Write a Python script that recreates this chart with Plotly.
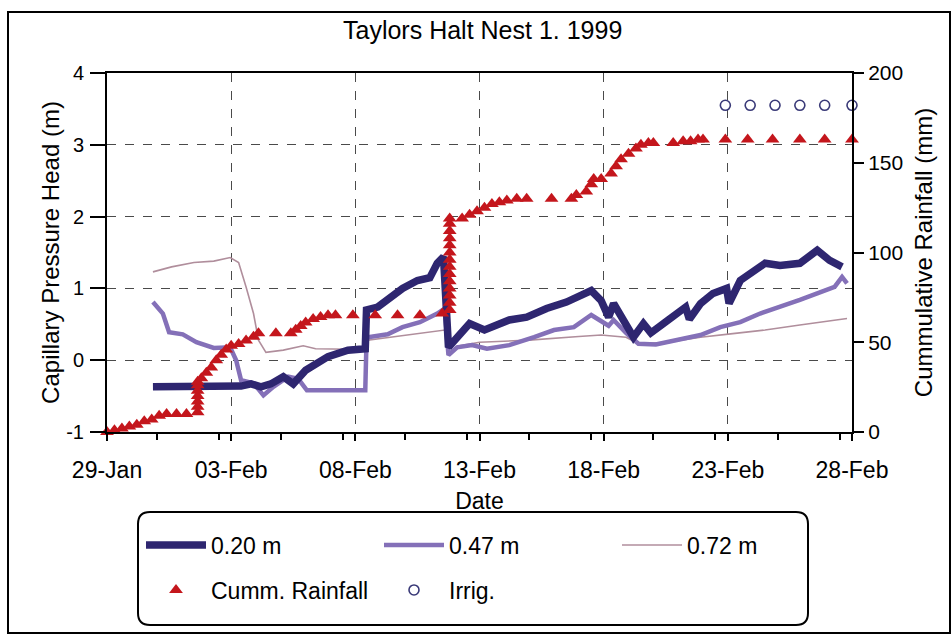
import pandas as pd
import plotly.graph_objects as go

# ---------------- data (days after 29-Jan-1999) ----------------
start_date = "1999-01-29"
end_date = "1999-02-28"

days_020 = [1.85, 5.4, 5.8, 6.2, 6.6, 7.1, 7.5, 8.0, 8.9, 9.7, 10.4, 10.45, 10.9, 11.4, 11.9,
            12.5, 13.0, 13.3, 13.55, 13.75, 14.1, 14.6, 15.2, 16.2, 16.9, 17.7, 18.5, 19.0,
            19.5, 19.9, 20.2, 20.4, 20.8, 21.2, 21.6, 21.9, 22.6, 23.3, 23.45, 23.9, 24.4,
            24.95, 25.05, 25.5, 26.5, 27.1, 27.9, 28.6, 29.1, 29.6]
head_020 = [-0.37, -0.36, -0.33, -0.37, -0.33, -0.23, -0.33, -0.14, 0.05, 0.14, 0.16, 0.70,
            0.74, 0.88, 1.00, 1.11, 1.15, 1.35, 1.44, 0.18, 0.32, 0.51, 0.42, 0.56, 0.60,
            0.72, 0.81, 0.88, 0.97, 0.83, 0.60, 0.79, 0.56, 0.32, 0.51, 0.38, 0.56, 0.74,
            0.57, 0.79, 0.93, 1.00, 0.79, 1.11, 1.35, 1.32, 1.35, 1.53, 1.39, 1.30]

days_047 = [1.85, 2.25, 2.5, 3.05, 3.6, 4.3, 4.96, 5.2, 5.4, 5.9, 6.3, 6.7, 7.3, 7.7, 8.05,
            9.0, 10.4, 10.45, 10.5, 11.3, 11.9, 12.6, 13.3, 13.6, 13.75, 14.1, 14.7, 15.3,
            16.2, 17.2, 18.0, 18.8, 19.5, 20.2, 20.4, 20.9, 21.4, 22.1, 23.0, 23.9, 24.7,
            25.5, 26.3, 27.1, 27.9, 28.6, 29.3, 29.6, 29.8]
head_047 = [0.81, 0.65, 0.39, 0.36, 0.25, 0.17, 0.18, 0.00, -0.28, -0.32, -0.49, -0.37,
            -0.23, -0.26, -0.42, -0.42, -0.42, 0.28, 0.32, 0.36, 0.46, 0.53, 0.65, 0.72,
            0.07, 0.18, 0.21, 0.16, 0.21, 0.32, 0.42, 0.46, 0.63, 0.48, 0.56, 0.38, 0.23,
            0.22, 0.28, 0.35, 0.46, 0.53, 0.65, 0.74, 0.84, 0.93, 1.02, 1.16, 1.07]

days_072 = [1.85, 2.6, 3.5, 4.3, 4.96, 5.3, 5.6, 5.9, 6.1, 6.4, 7.1, 7.9, 8.4, 9.9, 10.4,
            10.5, 13.6, 13.75, 14.2, 15.0, 17.0, 19.0, 19.9, 20.9, 21.4, 22.6, 23.9, 25.2,
            26.5, 27.9, 29.3, 29.8]
head_072 = [1.23, 1.30, 1.36, 1.38, 1.43, 1.36, 1.02, 0.65, 0.28, 0.11, 0.14, 0.20, 0.16,
            0.15, 0.15, 0.28, 0.42, 0.10, 0.20, 0.25, 0.28, 0.33, 0.35, 0.32, 0.23, 0.25,
            0.32, 0.37, 0.42, 0.49, 0.56, 0.58]

days_rain = [0.0, 0.3, 0.6, 0.9, 1.2, 1.5, 1.8, 2.1, 2.4, 2.8, 3.2,
             3.65, 3.65, 3.65, 3.65, 3.65, 3.65, 3.65,
             3.8, 4.0, 4.2, 4.4, 4.6, 4.8, 5.0, 5.3, 5.6, 5.9, 6.1, 6.8, 7.4, 7.6, 7.8,
             8.0, 8.3, 8.6, 8.9, 9.2, 9.9, 10.8, 11.7, 12.6, 13.5,
             13.8, 13.8, 13.8, 13.8, 13.8, 13.8, 13.8, 13.8, 13.8, 13.8, 13.8, 13.8, 13.8, 13.8,
             14.3, 14.6, 14.9, 15.2, 15.5, 15.8, 16.1, 16.5, 16.9, 17.9, 18.7, 18.9, 19.3,
             19.5, 19.6, 19.9, 20.3, 20.5, 20.7, 21.0, 21.3, 21.5, 21.8, 22.0, 22.8, 23.2,
             23.5, 23.8, 24.0, 24.9, 25.8, 26.8, 27.9, 28.9, 30.0]
rain_mm = [0, 1, 2, 3, 4, 6, 7, 9, 10, 10, 10,
           11, 14, 17, 20, 23, 26, 28,
           30, 33, 36, 40, 43, 46, 48, 49, 51, 53, 55, 55, 55, 57, 59,
           61, 63, 64, 65, 65, 65, 65, 65, 65, 66,
           68, 72, 76, 80, 84, 88, 92, 96, 100, 104, 108, 112, 116, 119,
           119, 121, 123, 125, 127, 128, 129, 130, 130, 130, 130, 132, 134,
           138, 141, 141, 144, 148, 152, 155, 158, 160, 161, 161, 161, 162,
           162, 163, 163, 163, 163, 163, 163, 163, 163]

days_irrig = [24.9, 25.9, 26.9, 27.9, 28.9, 30.0]
irrig_mm = [182, 182, 182, 182, 182, 182]

title_text = "Taylors Halt Nest 1. 1999"
series_names = ["0.20 m", "0.47 m", "0.72 m", "Cumm. Rainfall", "Irrig."]
left_ticks = [-1, 0, 1, 2, 3, 4]
left_tick_text = ["-1", "0", "1", "2", "3", "4"]

# ---------------- helpers ----------------
base = pd.Timestamp(start_date)


def to_dates(days):
    return base + pd.to_timedelta(days, unit="D")


W, H = 952, 635
L, R, T, B = 107, 852, 73, 432  # plot area in pixels


def px(xp):
    return (xp - L) / (R - L)


def py(yp):
    return (B - yp) / (B - T)


FONT = "Liberation Sans, Arial, sans-serif"

fig = go.Figure()

fig.add_trace(go.Scatter(x=to_dates(days_072), y=head_072, mode="lines", name=series_names[2],
                         line=dict(color="#b08e9c", width=1.6), legend="legend", legendrank=3))
fig.add_trace(go.Scatter(x=to_dates(days_047), y=head_047, mode="lines", name=series_names[1],
                         line=dict(color="#8470b8", width=4.5), legend="legend", legendrank=2))
fig.add_trace(go.Scatter(x=to_dates(days_020), y=head_020, mode="lines", name=series_names[0],
                         line=dict(color="#2e2670", width=7.5), legend="legend", legendrank=1))
fig.add_trace(go.Scatter(x=to_dates(days_rain), y=rain_mm, mode="markers", name=series_names[3],
                         yaxis="y2", cliponaxis=False,
                         marker=dict(symbol="triangle-up", size=12, color="#c4161c"),
                         legend="legend2", legendrank=1))
fig.add_trace(go.Scatter(x=to_dates(days_irrig), y=irrig_mm, mode="markers", name=series_names[4],
                         yaxis="y2", cliponaxis=False,
                         marker=dict(symbol="circle-open", size=10, color="#3a3a78",
                                     line=dict(width=1.6)),
                         legend="legend2", legendrank=2))

day_ms = 86400000

fig.update_layout(
    width=W, height=H,
    margin=dict(l=L, r=W - R, t=T, b=H - B, autoexpand=False),
    paper_bgcolor="white", plot_bgcolor="white",
    font=dict(family=FONT, size=23, color="black"),
    title=dict(text=title_text, x=0.507, xanchor="center", xref="container",
               y=1 - 30 / H, yanchor="middle", yref="container",
               font=dict(size=25, family=FONT)),
    xaxis=dict(
        type="date", range=[start_date, end_date],
        tick0=start_date, dtick=5 * day_ms, tickformat="%d-%b",
        ticks="outside", ticklen=7, tickwidth=1.5, tickcolor="black",
        ticklabelstandoff=9,
        minor=dict(dtick=2.5 * day_ms, ticks="outside", ticklen=6, tickcolor="black",
                   showgrid=False),
        showgrid=True, gridcolor="#4a4a4a", griddash="dash", gridwidth=1,
        showline=True, linecolor="black", linewidth=2, mirror=True,
        zeroline=False, automargin=False,
        title=dict(text="Date", standoff=11, font=dict(size=23)),
        tickfont=dict(size=23),
    ),
    yaxis=dict(
        range=[-1, 4], tickvals=left_ticks, ticktext=left_tick_text,
        ticks="outside", ticklen=15, tickwidth=1.5, tickcolor="black",
        ticklabelstandoff=2,
        showgrid=True, gridcolor="#4a4a4a", griddash="dash", gridwidth=1,
        showline=True, linecolor="black", linewidth=2,
        zeroline=False, automargin=False,
        title=dict(text="Capillary Pressure Head (m)", standoff=0, font=dict(size=24)),
        tickfont=dict(size=20),
    ),
    yaxis2=dict(
        overlaying="y", side="right", range=[0, 200], dtick=50, tick0=0,
        ticks="outside", ticklen=10, tickwidth=1.5, tickcolor="black",
        showgrid=False, showline=True, linecolor="black", linewidth=2,
        zeroline=False, automargin=False,
        title=dict(text="Cummulative Rainfall (mm)", standoff=13, font=dict(size=24)),
        tickfont=dict(size=21),
    ),
    legend=dict(
        orientation="h", xref="container", yref="container",
        x=141 / W, xanchor="left", y=1 - 545 / H, yanchor="middle",
        entrywidth=163, entrywidthmode="pixels", itemwidth=60,
        bgcolor="rgba(0,0,0,0)", borderwidth=0,
        font=dict(size=23, family=FONT), traceorder="normal",
    ),
    legend2=dict(
        orientation="h", xref="container", yref="container",
        x=141 / W, xanchor="left", y=1 - 590 / H, yanchor="middle",
        entrywidth=163, entrywidthmode="pixels", itemwidth=60,
        bgcolor="rgba(0,0,0,0)", borderwidth=0,
        font=dict(size=23, family=FONT), traceorder="normal",
    ),
    showlegend=True,
)

# rounded legend box
x0, x1, y0, y1, r = 138, 808, 512, 625, 12
path = (f"M {px(x0 + r)},{py(y0)} L {px(x1 - r)},{py(y0)} "
        f"Q {px(x1)},{py(y0)} {px(x1)},{py(y0 + r)} L {px(x1)},{py(y1 - r)} "
        f"Q {px(x1)},{py(y1)} {px(x1 - r)},{py(y1)} L {px(x0 + r)},{py(y1)} "
        f"Q {px(x0)},{py(y1)} {px(x0)},{py(y1 - r)} L {px(x0)},{py(y0 + r)} "
        f"Q {px(x0)},{py(y0)} {px(x0 + r)},{py(y0)} Z")
fig.add_shape(type="path", path=path, xref="paper", yref="paper",
              line=dict(color="black", width=2), layer="below")

# outer frame
fig.add_shape(type="rect", xref="paper", yref="paper",
              x0=px(8), x1=px(950), y0=py(633), y1=py(12),
              line=dict(color="black", width=2), layer="below")

fig.write_html("out.html", config={"displayModeBar": False},
               post_script="document.body.style.margin='0';")
